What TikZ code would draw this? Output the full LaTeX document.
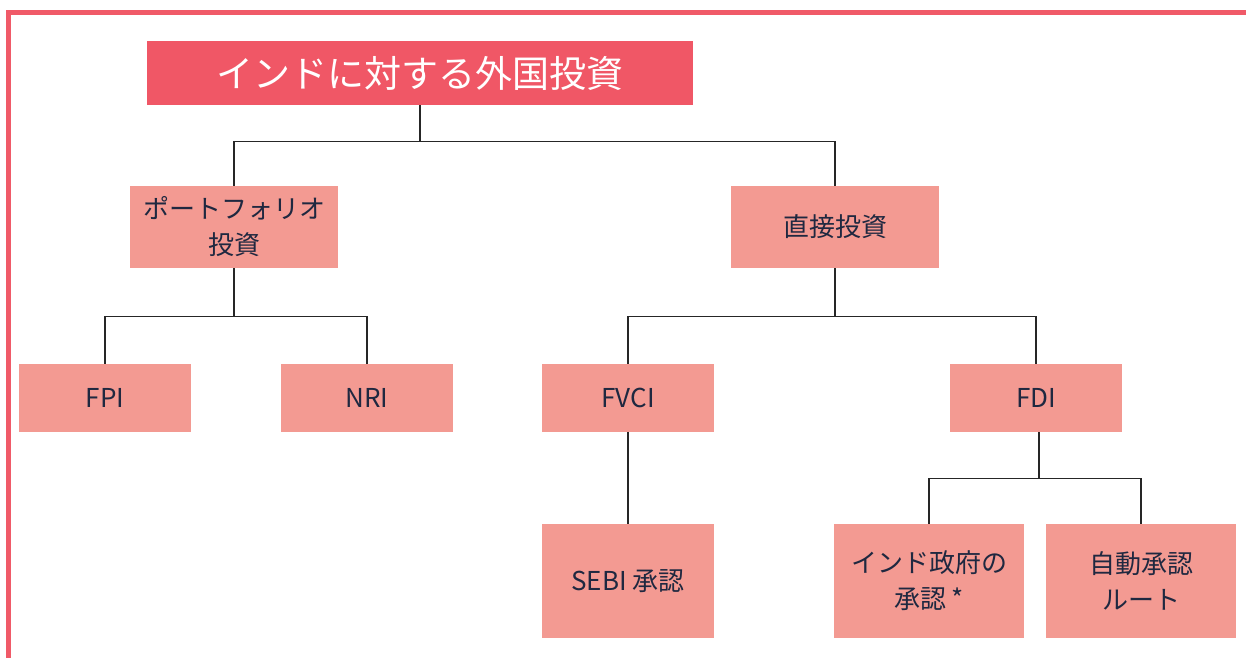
\documentclass[tikz,border=0pt]{standalone}
\usepackage{fontspec}
\setmainfont{Noto Sans CJK JP}
\definecolor{framered}{HTML}{F05A68}
\definecolor{titlered}{HTML}{F05766}
\definecolor{boxpink}{HTML}{F39A92}
\definecolor{textnavy}{HTML}{1F2840}
\tikzset{
  box/.style={fill=boxpink, text=textnavy, font=\fontsize{26}{36}\selectfont,
    align=center, inner sep=0pt},
  link/.style={draw=black!85, line width=1.3pt},
}
\begin{document}
\begin{tikzpicture}[x=1pt,y=-1pt]
        \useasboundingbox (0,0) rectangle (1246,657);
        \clip (0,0) rectangle (1246,657);
        \draw[framered, line width=5pt] (8.5,12) rectangle (1248,700);
        \node[fill=titlered, text=white, font=\fontsize{37}{40}\selectfont,
          minimum width=546pt, minimum height=64pt, inner sep=0pt] (title) at (420,73) {インドに対する外国投資};
        \node[box, minimum width=208pt, minimum height=82pt] (port) at (234,227) {ポートフォリオ\\投資};
        \node[box, minimum width=208pt, minimum height=82pt] (direct) at (835,227) {直接投資};
        \node[box, minimum width=172pt, minimum height=68pt] (fpi) at (105,398) {FPI};
        \node[box, minimum width=172pt, minimum height=68pt] (nri) at (367,398) {NRI};
        \node[box, minimum width=172pt, minimum height=68pt] (fvci) at (628,398) {FVCI};
        \node[box, minimum width=172pt, minimum height=68pt] (fdi) at (1036,398) {FDI};
        \node[box, minimum width=172pt, minimum height=114pt] (sebi) at (628,581) {SEBI 承認};
        \node[box, minimum width=190pt, minimum height=114pt] (govt) at (929,581) {インド政府の\\承認 *};
        \node[box, minimum width=190pt, minimum height=114pt] (auto) at (1141,581) {自動承認\\ルート};
        % connectors
        \draw[link] (title.south) -- ++(0,36) -| (port.north);
        \draw[link] (title.south) -- ++(0,36) -| (direct.north);
        \draw[link] (port.south) -- ++(0,48) -| (fpi.north);
        \draw[link] (port.south) -- ++(0,48) -| (nri.north);
        \draw[link] (direct.south) -- ++(0,48) -| (fvci.north);
        \draw[link] (direct.south) -- ++(0,48) -| (fdi.north);
        \draw[link] (fvci.south) -- (sebi.north);
        \draw[link] ([xshift=3pt]fdi.south) -- ++(0,46) -| (govt.north);
        \draw[link] ([xshift=3pt]fdi.south) -- ++(0,46) -| (auto.north);
\end{tikzpicture}
\end{document}
